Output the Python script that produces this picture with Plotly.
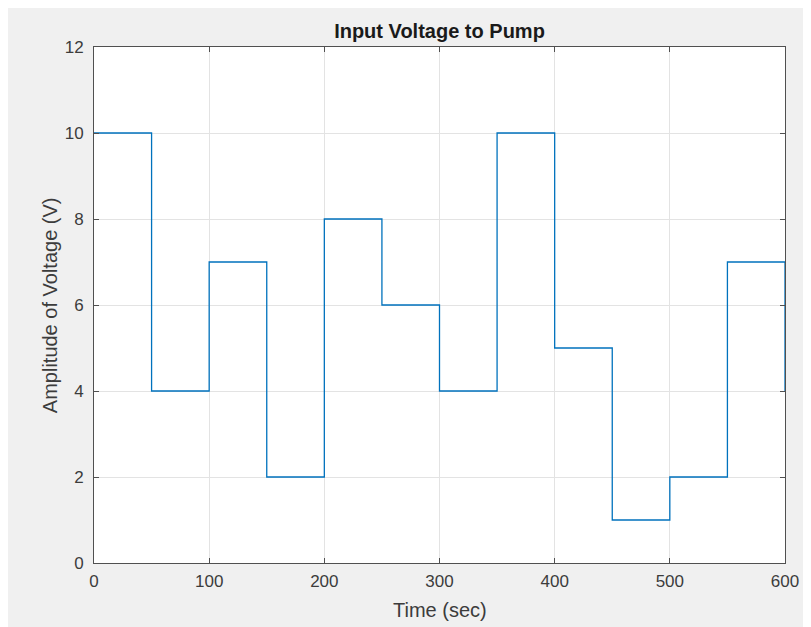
import plotly.graph_objects as go

time_s = [0, 50, 100, 150, 200, 250, 300, 350, 400, 450, 500, 550, 600]
voltage = [10, 4, 7, 2, 8, 6, 4, 10, 5, 1, 2, 7, 4]
x_ticks = [0, 100, 200, 300, 400, 500, 600]
y_ticks = [0, 2, 4, 6, 8, 10, 12]

# figure is drawn inside the page body, which is offset by 8px
OFF = 8
W, H = 811 - OFF, 627 - OFF
L, R, T, B = 86, 23, 39, 64
pw, ph = W - L - R, H - T - B

def px_to_xpaper(px):
    return (px - OFF - L) / pw

def py_to_ypaper(py):
    return (H - B - (py - OFF)) / ph

FONT = "Liberation Sans, Arial, sans-serif"

fig = go.Figure()
fig.add_trace(go.Scatter(
    x=time_s, y=voltage, mode="lines", line_shape="hv",
    line=dict(color="#0072BD", width=1.3), showlegend=False,
    hoverinfo="x+y",
))

axis_common = dict(
    showline=True, linecolor="#505050", linewidth=1, mirror="ticks",
    ticks="inside", ticklen=5, tickcolor="#505050", tickwidth=1,
    showgrid=True, gridcolor="#e3e3e3", gridwidth=1, zeroline=False,
    tickfont=dict(family=FONT, size=17, color="#3c3c3c"),
)

fig.update_layout(
    width=W, height=H,
    margin=dict(l=L, r=R, t=T, b=B, pad=0),
    paper_bgcolor="#f0f0f0", plot_bgcolor="#ffffff",
    xaxis=dict(range=[0, 600], tickvals=x_ticks, ticklabelstandoff=3, **axis_common),
    yaxis=dict(range=[0, 12], tickvals=y_ticks, ticklabelstandoff=6, **axis_common),
    title=dict(text="<b>Input Voltage to Pump</b>", x=px_to_xpaper(441), xref="paper",
               y=1 - (31 - OFF) / H, yref="container", xanchor="center", yanchor="middle",
               font=dict(family=FONT, size=20, color="#1a1a1a")),
    annotations=[
        dict(text="Time (sec)", x=px_to_xpaper(442), y=py_to_ypaper(610), xref="paper", yref="paper",
             showarrow=False, xanchor="center", yanchor="middle",
             font=dict(family=FONT, size=20, color="#3c3c3c")),
        dict(text="Amplitude of Voltage (V)", x=px_to_xpaper(50), y=py_to_ypaper(305), xref="paper", yref="paper",
             showarrow=False, xanchor="center", yanchor="middle", textangle=-90,
             font=dict(family=FONT, size=20, color="#3c3c3c")),
    ],
)

fig.write_html("out.html")
